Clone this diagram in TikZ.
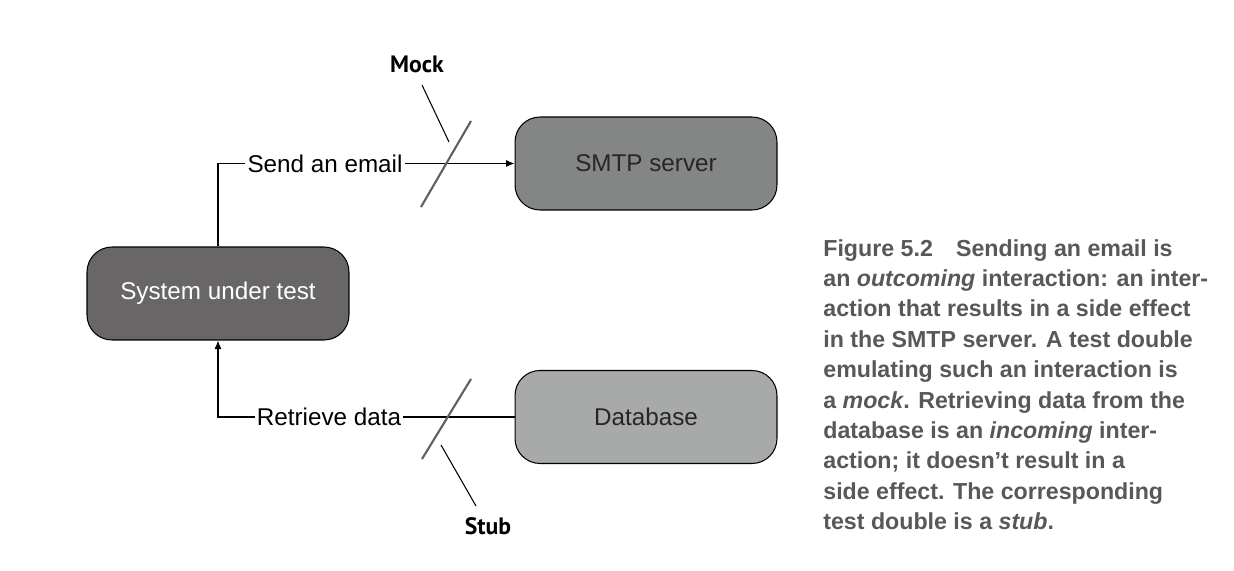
\documentclass[tikz,border=0pt]{standalone}
\usepackage{fontspec}
\setmainfont{Liberation Sans}
\newfontfamily\tagfont{PT Sans}
\usetikzlibrary{arrows.meta,positioning}

\definecolor{smtpgray}{RGB}{132,134,134}
\definecolor{sutgray}{RGB}{105,102,104}
\definecolor{dbgray}{RGB}{168,170,170}
\definecolor{captiongray}{RGB}{88,88,88}
\definecolor{slashgray}{RGB}{95,95,95}

\begin{document}
\begin{tikzpicture}[x=0.02cm, y=-0.02cm,
    box/.style={rectangle, rounded corners=0.5cm, draw=black, semithick, minimum width=5.24cm, minimum height=1.86cm, font=\fontsize{13.8}{16}\selectfont},
    label/.style={inner sep=1pt, fill=white, font=\fontsize{13.8}{16}\selectfont},
    tag/.style={inner sep=0pt, font=\tagfont\bfseries\fontsize{13.5}{16}\selectfont},
    slash/.style={slashgray, line width=1.2pt},
    line/.style={semithick},
    arrow/.style={semithick, -{Latex[length=1.7mm, width=1.4mm]}}
]
\useasboundingbox (0,0) rectangle (1234,571);

% Boxes
\node[box, fill=smtpgray, text=black!85] (smtp) at (646, 163.5) {SMTP server};
\node[box, fill=sutgray, text=white] (sut) at (218, 293.5) {System under test};
\node[box, fill=dbgray, text=black!85] (db) at (646, 417) {Database};

% Labels on the connectors
\node[label] (send) at (325, 163.5) {Send an email};
\node[label] (retrieve) at (329, 417) {Retrieve data};

% Connectors
\draw[line] (sut.north) |- (send.west);
\draw[arrow] (send.east) -- (smtp.west);
\draw[line] (db.west) -- (retrieve.east);
\draw[arrow] (retrieve.west) -| (sut.south);

% Slashes
\draw[slash] (421, 207) -- (471, 121);
\draw[slash] (422, 459) -- (471, 379);

% Mock and Stub
\node[tag] (mock) at (417, 64) {Mock};
\node[tag] (stub) at (488, 526) {Stub};
\coordinate (mocktip) at (449, 142);
\coordinate (stubtip) at (441, 445);
\draw[line] (422, 85) -- (mocktip);
\draw[line] (476, 506) -- (stubtip);

% Caption
\node[anchor=north west, inner sep=0pt, align=left, text=captiongray,
      font=\bfseries\fontsize{13.2}{17.3}\selectfont] (caption) at (823, 239) {
    Figure 5.2\quad Sending an email is\\
    an \textit{outcoming} interaction: an inter-\\
    action that results in a side effect\\
    in the SMTP server. A test double\\
    emulating such an interaction is\\
    a \textit{mock}. Retrieving data from the\\
    database is an \textit{incoming} inter-\\
    action; it doesn’t result in a\\
    side effect. The corresponding\\
    test double is a \textit{stub}.
};

\end{tikzpicture}
\end{document}
